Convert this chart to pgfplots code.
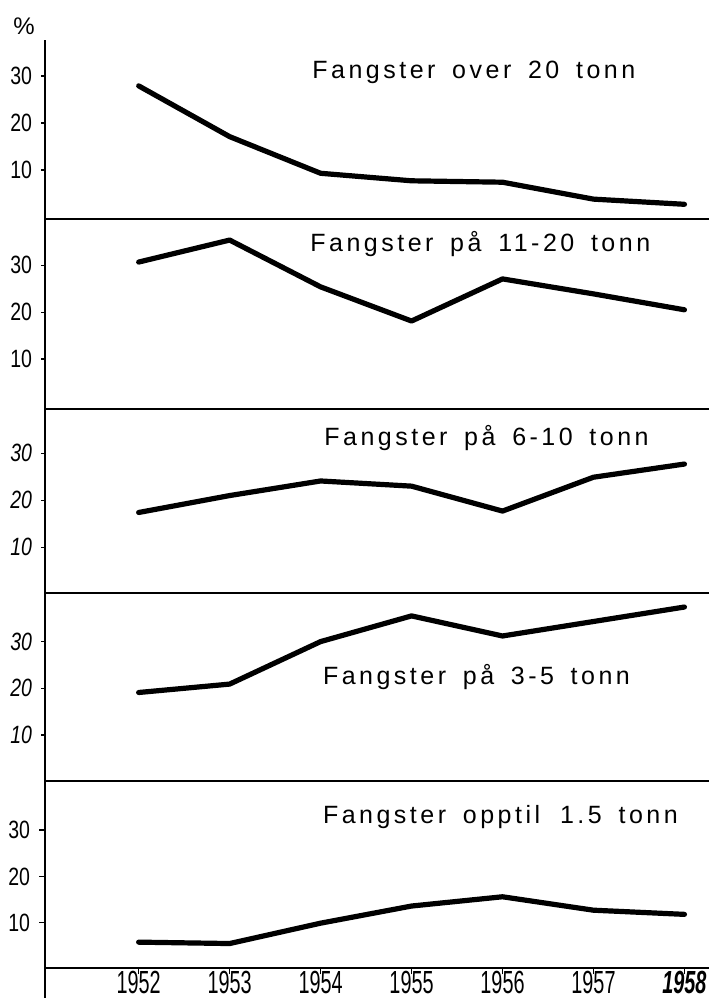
\documentclass[border=0pt]{standalone}
\usepackage{fontspec}
\setmainfont{Liberation Sans}
\newfontfamily\labfont[LetterSpace=14,WordSpace=1.6]{Liberation Sans}
\newfontfamily\tickfont[FakeStretch=0.78]{Liberation Sans}
\newfontfamily\yearfont[FakeStretch=0.62]{Liberation Sans}
\usepackage{pgfplots}
\pgfplotsset{compat=1.18}
\pgfplotsset{
  panel/.style={
    scale only axis, width=332pt, anchor=south west,
    xmin=1950.97, xmax=1958.27,
    axis x line*=bottom, axis y line*=left,
    axis line style={-, line width=1pt, black},
    ytick={10,20,30}, yticklabels={10,20,30},
    xtick=\empty,
    tick align=outside, major tick length=2pt,
    tick style={line width=0.6pt, black},
    yticklabel style={font=\tickfont\fontsize{12.5}{13}\selectfont, xshift=-1pt},
    clip=false,
  },
  curve/.style={black, line width=2.6pt, line join=round, line cap=round},
}
\newcommand{\lab}{\labfont\fontsize{12.5}{14}\selectfont}
\begin{document}
\begin{tikzpicture}
\path[use as bounding box] (0,0) rectangle (354.5pt,-499pt);
\node[font=\fontsize{12}{12}\selectfont] at (12pt,-13pt) {\%};

% Panel 1
\begin{axis}[panel, at={(22.5pt,-109.5pt)}, height=89.5pt, ymin=-0.43, ymax=37.66]
\addplot[curve] coordinates {(1952,27.9) (1953,17.1) (1954,9.3) (1955,7.7) (1956,7.4) (1957,3.8) (1958,2.7)};
\end{axis}

% Panel 2
\begin{axis}[panel, at={(22.5pt,-204.5pt)}, height=95pt, ymin=-0.7, ymax=39.9]
\addplot[curve] coordinates {(1952,30.7) (1953,35.4) (1954,25.4) (1955,18.1) (1956,27.1) (1957,23.9) (1958,20.5)};
\end{axis}

% Panel 3
\begin{axis}[panel, at={(22.5pt,-296.5pt)}, height=92pt, ymin=0.28, ymax=39.4,
  yticklabel style={font=\tickfont\itshape\fontsize{12.5}{13}\selectfont}]
\addplot[curve] coordinates {(1952,17.4) (1953,21.0) (1954,24.1) (1955,23.0) (1956,17.7) (1957,24.9) (1958,27.7)};
\end{axis}

% Panel 4
\begin{axis}[panel, at={(22.5pt,-390.5pt)}, height=94pt, ymin=0.15, ymax=40.4,
  yticklabel style={font=\tickfont\itshape\fontsize{12.5}{13}\selectfont}]
\addplot[curve] coordinates {(1952,19.1) (1953,20.9) (1954,30.0) (1955,35.5) (1956,31.2) (1957,34.3) (1958,37.4)};
\end{axis}

% Panel 5
\begin{axis}[panel, at={(22.5pt,-484.15pt)}, height=93.65pt, ymin=0.15, ymax=40.6,
  xtick={1952,1953,1954,1955,1956,1957,1958},
  xticklabels={1952,1953,1954,1955,1956,1957,\textbf{\textit{1958}}},
  major tick length=3pt,
  xticklabel style={font=\yearfont\fontsize{16}{17}\selectfont, anchor=base, inner sep=0pt, yshift=-9.8pt}]
\addplot[curve] coordinates {(1952,5.8) (1953,5.5) (1954,9.9) (1955,13.6) (1956,15.6) (1957,12.7) (1958,11.8)};
\draw[line width=1pt] (rel axis cs:0,0) -- ([yshift=-16pt]rel axis cs:0,0);
\end{axis}

\node[anchor=base west, inner sep=0pt, font=\lab] at (156pt,-39pt) {Fangster over 20 tonn};
\node[anchor=base west, inner sep=0pt, font=\lab] at (155pt,-125.8pt) {Fangster på 11-20 tonn};
\node[anchor=base west, inner sep=0pt, font=\lab] at (162pt,-222.5pt) {Fangster på 6-10 tonn};
\node[anchor=base west, inner sep=0pt, font=\lab] at (161.3pt,-342pt) {Fangster på 3-5 tonn};
\node[anchor=base west, inner sep=0pt, font=\lab] at (161.3pt,-411.5pt) {Fangster opptil\hspace{10pt}1.5 tonn};
\end{tikzpicture}
\end{document}
